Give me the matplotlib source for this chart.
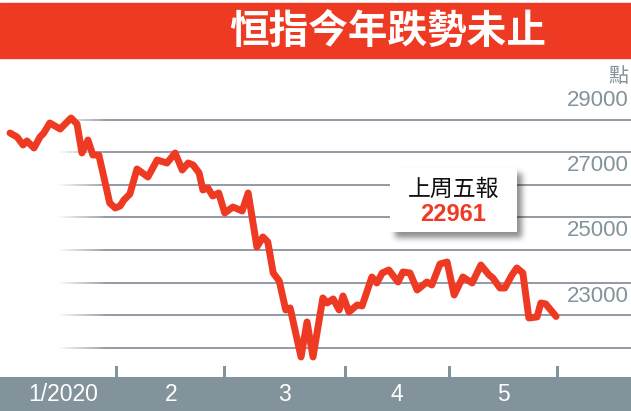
import numpy as np
import matplotlib

matplotlib.use("Agg")
import matplotlib.pyplot as plt
from matplotlib.patches import Rectangle
from matplotlib.collections import LineCollection

# trading-day index (0 = 2 Jan 2020) and Hang Seng Index close
day = [0, 1.3, 2.4, 3.1, 4.4, 5.5, 6.2, 7.3, 9.2, 11.2, 12.3, 13.2, 14.3, 15.2,
       16.3, 18.3, 19.3, 20.2, 20.9, 22.0, 23.3, 25.3, 27.0, 28.8, 30.3, 31.6,
       32.7, 33.6, 34.7, 35.4, 36.3, 37.2, 38.3, 39.4, 40.9, 42.6, 43.7, 45.3,
       46.4, 47.3, 48.3, 49.4, 50.6, 51.4, 53.4, 54.5, 55.6, 57.4, 58.2, 59.3,
       60.4, 61.1, 62.2, 63.7, 64.6, 66.4, 67.3, 68.3, 69.5, 71.2, 72.1, 73.4,
       74.7, 76.5, 77.4, 78.9, 80.2, 81.5, 83.1, 84.8, 86.4, 87.9, 88.6, 89.9,
       90.8, 92.1, 93.0, 94.1, 95.2, 96.7, 97.4, 98.3, 100.2]
hsi = [28589, 28466, 28221, 28344, 28129, 28466, 28589, 28896, 28712, 29049,
       28865, 27976, 28374, 27914, 27914, 26442, 26289, 26350, 26534, 26718,
       27485, 27240, 27761, 27669, 27976, 27454, 27669, 27608, 27362, 26841,
       26902, 26657, 26749, 26135, 26319, 26197, 26749, 25093, 25400, 25246,
       24295, 24050, 23160, 23222, 21719, 22792, 21719, 23529, 23375, 23498,
       23160, 23590, 23099, 23314, 23283, 24172, 23988, 24295, 24387, 24019,
       24326, 24295, 23774, 24019, 23927, 24571, 24632, 23620, 24172, 23988,
       24540, 24234, 24142, 23835, 23835, 24234, 24448, 24295, 22915, 22946,
       23375, 23345, 22961]

grid_levels = [22000, 23000, 24000, 25000, 26000, 27000, 28000, 29000]
label_levels = [23000, 25000, 27000, 29000]
month_edges = [0, 19.6, 39.4, 61.5, 80.6, 100.4]
month_labels = ["1/2020", "2", "3", "4", "5"]

title = "恒指今年跌勢未止"
note = "上周五報"
last_close = "22961"

RED = "#ee3a23"
SLATE = "#82939b"
W, H = 631, 411


def px(x, y):
    # pixel from top-left -> axes fraction
    return x / W, 1 - y / H


fig = plt.figure(figsize=(W / 100, H / 100), dpi=100)
ax = fig.add_axes([0, 0, 1, 1])
ax.set_axis_off()
# data limits chosen so day 0 sits at x=10px and 1000 points = 32.6px
ax.set_xlim(-10 / 5.45, (W - 10) / 5.45)
ax.set_ylim(29000 - (H - 119.6) * 1000 / 32.6, 29000 + 119.6 * 1000 / 32.6)

# grid lines fading in from the left
xs = np.linspace(ax.get_xlim()[0] + 55 / 5.45, ax.get_xlim()[1], 120)
for lv in grid_levels:
    seg = [[(xs[i], lv), (xs[i + 1], lv)] for i in range(len(xs) - 1)]
    a = np.clip((xs[:-1] - xs[0]) / (50 / 5.45), 0, 1)
    cols = [(0.58, 0.60, 0.64, v) for v in a]
    ax.add_collection(LineCollection(seg, colors=cols, linewidths=1.4, zorder=1))

for lv in label_levels:
    ax.text(629 / W, lv + 420, f"{lv}", transform=ax.get_yaxis_transform(),
            ha="right", va="baseline", fontsize=16, color=SLATE,
            family="Liberation Sans", zorder=3)
ax.text(*px(628, 76), "點", transform=ax.transAxes, ha="right", va="center",
        fontsize=14.5, color=SLATE, family="Noto Sans CJK TC", zorder=3)

ax.plot(day, hsi, color=RED, lw=5, solid_joinstyle="round",
        solid_capstyle="round", zorder=4)

# title banner
ax.add_patch(Rectangle(px(0, 58), 1, 55 / H, transform=ax.transAxes,
                       color=RED, zorder=5))
ax.text(*px(229, 31), title, transform=ax.transAxes, ha="left", va="center",
        fontsize=28.5, color="white", weight="heavy",
        family="Noto Sans CJK TC", zorder=6)

# annotation box with soft blurred shadow
bx, by, bw, bh = 390, 168, 127, 64
pad = 14
sh = np.zeros((bh + 2 * pad, bw + 2 * pad))
sh[pad:pad + bh, pad:pad + bw] = 1.0
k = np.exp(-0.5 * (np.arange(-8, 9) / 3.0) ** 2)
k /= k.sum()
sh = np.apply_along_axis(lambda r: np.convolve(r, k, mode="same"), 1, sh)
sh = np.apply_along_axis(lambda c: np.convolve(c, k, mode="same"), 0, sh)
rgba = np.zeros(sh.shape + (4,))
rgba[..., 3] = 0.45 * sh
ox, oy = 5, 6
x0, y1 = px(bx + ox - pad, by + oy - pad)
x1, y0 = px(bx + ox + bw + pad, by + oy + bh + pad)
ax.imshow(rgba, extent=(x0, x1, y0, y1), transform=ax.transAxes,
          aspect="auto", interpolation="bilinear", zorder=6)
ax.add_patch(Rectangle(px(bx, by + bh), bw / W, bh / H, transform=ax.transAxes,
                       color="white", lw=0, zorder=7))
ax.text(*px(bx + bw / 2, 189), note, transform=ax.transAxes, ha="center",
        va="center", fontsize=16.5, color="#111111",
        family="Noto Sans CJK TC", zorder=8)
ax.text(*px(bx + bw / 2, 214), last_close, transform=ax.transAxes,
        ha="center", va="center", fontsize=17, color=RED, weight="bold",
        family="Liberation Sans", zorder=8)

# month bar at the bottom
ax.add_patch(Rectangle(px(0, H), 1, 34 / H, transform=ax.transAxes,
                       color=SLATE, lw=0, zorder=5))
for e in month_edges[1:]:
    ax.add_patch(Rectangle((e - 0.3, 0), 0.6, 45 / H,
                           transform=ax.get_xaxis_transform(),
                           color=SLATE, lw=0, zorder=5))
for i, lab in enumerate(month_labels):
    mid = (month_edges[i] + month_edges[i + 1]) / 2
    ax.text(mid, 1 - 394 / H, lab, transform=ax.get_xaxis_transform(),
            ha="center", va="center", fontsize=16.5, color="white",
            family="Liberation Sans", zorder=6)

ax.set_xlim(-10 / 5.45, (W - 10) / 5.45)
ax.set_ylim(29000 - (H - 119.6) * 1000 / 32.6, 29000 + 119.6 * 1000 / 32.6)
fig.savefig("out.png", dpi=100)
